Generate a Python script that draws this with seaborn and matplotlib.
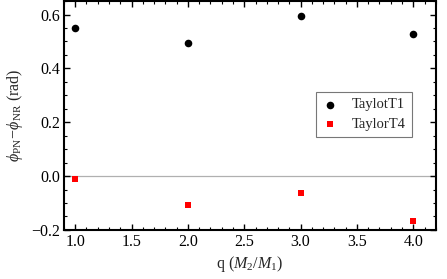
import matplotlib
matplotlib.use("Agg")
import matplotlib.pyplot as plt
import seaborn as sns
import pandas as pd
from matplotlib.ticker import MultipleLocator

q = [1.0, 2.0, 3.0, 4.0]
taylor_t1 = [0.551, 0.496, 0.593, 0.527]
taylor_t4 = [-0.012, -0.108, -0.062, -0.167]
series_names = ["TaylotT1", "TaylorT4"]

df1 = pd.DataFrame({"q": q, "dphi": taylor_t1})
df4 = pd.DataFrame({"q": q, "dphi": taylor_t4})

sns.set_theme(style="white")
plt.rcParams["font.family"] = ["Liberation Serif", "DejaVu Serif"]
plt.rcParams["mathtext.fontset"] = "custom"
plt.rcParams["mathtext.rm"] = "Liberation Serif"
plt.rcParams["mathtext.it"] = "Liberation Serif:italic"

fig = plt.figure(figsize=(4.47, 2.79), dpi=100)
ax = fig.add_axes([0.143, 0.176, 0.832, 0.820])

ax.axhline(0, color="#b0b0b0", lw=0.9, zorder=0)

sns.scatterplot(data=df1, x="q", y="dphi", color="black", marker="o",
                s=30, linewidth=0, ax=ax, zorder=3, label=series_names[0])
sns.scatterplot(data=df4, x="q", y="dphi", color="#ff0000", marker="s",
                s=18, linewidth=0, ax=ax, zorder=3, label=series_names[1])

ax.set_xlim(0.9, 4.2)
ax.set_ylim(-0.2, 0.65)
ax.xaxis.set_major_locator(MultipleLocator(0.5))
ax.xaxis.set_minor_locator(MultipleLocator(0.1))
ax.yaxis.set_major_locator(MultipleLocator(0.2))
ax.yaxis.set_minor_locator(MultipleLocator(0.05))
ax.tick_params(which="both", direction="in", top=True, right=True,
               bottom=True, left=True, colors="black", labelsize=11.5,
               pad=3)
ax.tick_params(which="major", length=4, width=1)
ax.tick_params(which="minor", length=2, width=0.8)
for sp in ax.spines.values():
    sp.set_visible(True)
    sp.set_color("black")
    sp.set_linewidth(1.5)

ax.set_xlabel(r"q ($M_2/M_1$)", fontsize=11.5, labelpad=3)
ax.set_ylabel(r"$\phi_{\rm PN}\!-\!\phi_{\rm NR}$ (rad)", fontsize=11.5, labelpad=4)

leg = ax.legend(loc="upper left", bbox_to_anchor=(0.677, 0.604), frameon=True,
                fancybox=False, edgecolor="#555555", fontsize=10.5,
                handlelength=1.0, handletextpad=1.0, borderpad=0.45,
                labelspacing=0.4, borderaxespad=0)
leg.get_frame().set_linewidth(0.8)

fig.savefig("out.png", dpi=100)
